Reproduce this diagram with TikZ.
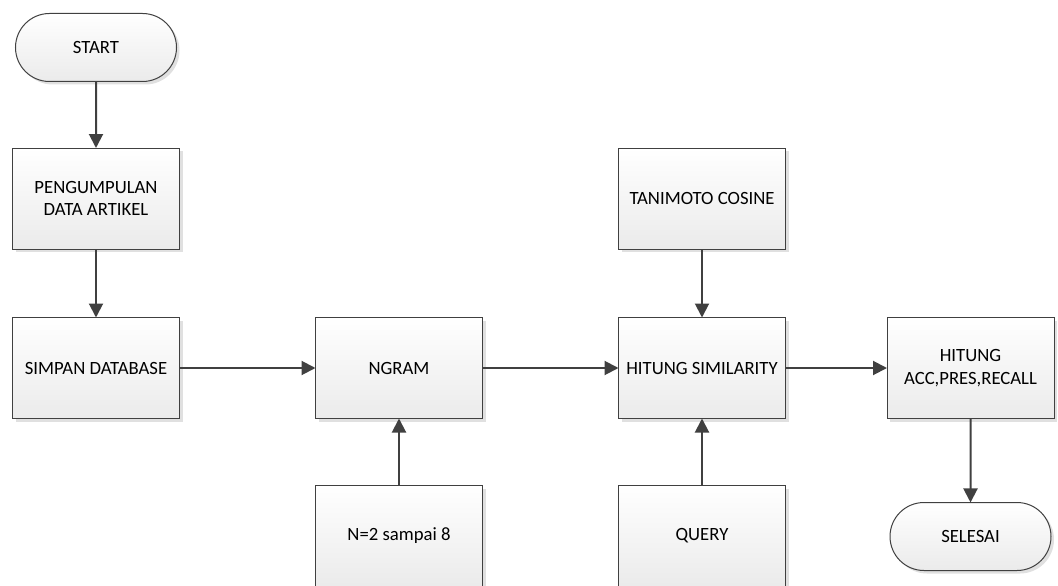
\documentclass[tikz,border=0pt]{standalone}
\usepackage{fontspec}
\setmainfont{Carlito}
\usetikzlibrary{positioning}
\usetikzlibrary{shapes.misc, arrows.meta, shadows}
\definecolor{linegray}{HTML}{404040}
\tikzstyle{process} = [rectangle, draw=linegray, line width=1pt, outer sep=0pt, inner xsep=3pt, top color=white, bottom color=black!8, minimum width=167pt, minimum height=101pt, align=center, font=\fontsize{18.7}{22.5}\selectfont, drop shadow={shadow xshift=3pt, shadow yshift=-3pt, fill=black!12, opacity=1}]
\tikzstyle{startstop} = [process, rounded rectangle, minimum height=68pt]
\tikzstyle{arrow} = [line width=2pt, draw=linegray, -{Triangle[length=14pt,width=14pt]}]

\begin{document}
\begin{tikzpicture}
	%Frame
	\useasboundingbox (0,0) rectangle (1058pt,-586pt);
	
	%Nodes
	\node [startstop] (start) at (96pt,-47.5pt) {START};
	\node [process, below=66.5pt of start] (pengumpulan) {PENGUMPULAN\\DATA ARTIKEL};
	\node [process, below=68.5pt of pengumpulan] (simpan) {SIMPAN DATABASE};
	\node [process, right=136pt of simpan] (ngram) {NGRAM};
	\node [process, below=67pt of ngram] (nilaiN) {N=2 sampai 8};
	\node [process, right=136pt of ngram] (similarity) {HITUNG SIMILARITY};
	\node [process, above=68.5pt of similarity] (tanimoto) {TANIMOTO COSINE};
	\node [process, below=67pt of similarity] (query) {QUERY};
	\node [process, right=101.5pt of similarity] (evaluasi) {HITUNG\\ACC,PRES,RECALL};
	\node [startstop, below=84pt of evaluasi] (selesai) {SELESAI};
	
	%Lines
	\draw[arrow] (start) -- (pengumpulan);
	\draw[arrow] (pengumpulan) -- (simpan);
	\draw[arrow] (simpan) -- (ngram);
	\draw[arrow] (nilaiN) -- (ngram);
	\draw[arrow] (ngram) -- (similarity);
	\draw[arrow] (tanimoto) -- (similarity);
	\draw[arrow] (query) -- (similarity);
	\draw[arrow] (similarity) -- (evaluasi);
	\draw[arrow] (evaluasi) -- (selesai);
	
\end{tikzpicture}
\end{document}
